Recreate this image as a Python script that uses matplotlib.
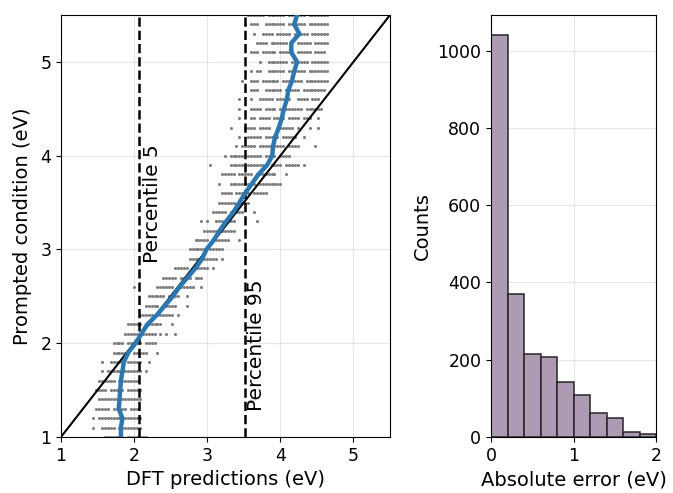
import numpy as np
import matplotlib
matplotlib.use("Agg")
import matplotlib.pyplot as plt

# rows of prompted condition (eV)
prompt_levels = [1.0, 1.1, 1.2, 1.3, 1.4, 1.5, 1.6, 1.7, 1.8, 1.9,
                 2.0, 2.1, 2.2, 2.3, 2.4, 2.5, 2.6, 2.7, 2.8, 2.9,
                 3.0, 3.1, 3.2, 3.3, 3.4, 3.5, 3.6, 3.7, 3.8, 3.9,
                 4.0, 4.1, 4.2, 4.3, 4.4, 4.5, 4.6, 4.7, 4.8, 4.9,
                 5.0, 5.1, 5.2, 5.3, 5.4, 5.5]

# scatter: cell grid of 0.04 eV starting at 1.40 eV,
# each row = first occupied cell + pattern ('#' = dot)
grid_x0 = 1.40
grid_dx = 0.04
row_start = [5, 1, 1, 2, 3, 2, 3, 4, 4, 8,
             8, 12, 13, 17, 19, 20, 15, 25, 29, 34,
             34, 36, 39, 38, 42, 44, 45, 44, 45, 41,
             46, 50, 51, 48, 51, 51, 51, 55, 52, 53,
             58, 55, 57, 56, 53, 54]
row_pattern = [
    "####### #######",
    "#  ##### ########",
    "# ######## ######",
    "##### ##### ###",
    "####### #######",
    "#### ##### #####",
    "###### #######",
    "# ##### ###### #",
    "#  ##### #####  #",
    "###### #####   #",
    "#### ##### ####",
    "##### ##### # #  #",
    "##### ######   #",
    "##### ###### #",
    "##### #####   #",
    "###### ####  #",
    "#       ###### ######  #",
    "##### #### ###",
    "##### ###### #",
    "#### ##### #",
    "###### #####",
    "##### ######   #",
    "##### #####",
    "# #  #######       #",
    "##### #####   #",
    "###### ####",
    "#### ##### #####",
    "#   ######### ########",
    "##### ##### #######   #",
    "#      ##### ######  #### ##### #",
    "# ##### ##### #### ####",
    "# ##### #### #### ####     #",
    "#  ##### ##### #####  #",
    "#    #### ####  ###### #   #  #",
    "#   ## #### #### #### ###  #",
    "#   #### #### ######## ######",
    "#   #  ##### #####  #### ###",
    "###  ###### ##### ########",
    "#  ### ###### ####### ########",
    "# # ##  ###### ###### #######",
    "#  ####### ###### ######",
    "### ##### ##### ##### ####",
    "#### ######   ##### #####",
    "#  #### ##### ##### ######",
    "# ###  ####### ###### #######",
    "###### ###### ###### #######",
]

# mean DFT prediction per row (blue line)
mean_pred = [1.82, 1.82, 1.84, 1.79, 1.80, 1.81, 1.82, 1.84, 1.86, 1.92,
             2.02, 2.10, 2.18, 2.31, 2.42, 2.53, 2.62, 2.73, 2.84, 2.93,
             2.99, 3.09, 3.17, 3.26, 3.36, 3.44, 3.52, 3.61, 3.70, 3.82,
             3.89, 3.90, 3.93, 3.98, 4.02, 4.05, 4.09, 4.11, 4.16, 4.19,
             4.23, 4.15, 4.15, 4.26, 4.19, 4.23]

p5 = 2.07
p95 = 3.52

# histogram of absolute error
err_edges = [0.0, 0.2, 0.4, 0.6, 0.8, 1.0, 1.2, 1.4, 1.6, 1.8, 2.0]
err_counts = [1040, 371, 216, 207, 142, 109, 63, 50, 12, 8]

xs, ys = [], []
for yv, s0, pat in zip(prompt_levels, row_start, row_pattern):
    for k, ch in enumerate(pat):
        if ch == "#":
            xs.append(grid_x0 + grid_dx * (s0 + k))
            ys.append(yv)

plt.rcParams["font.size"] = 12.5

fig = plt.figure(figsize=(6.73, 4.93), dpi=100)
ax = fig.add_axes([0.0906, 0.1136, 0.4889, 0.856])
ax2 = fig.add_axes([0.7296, 0.1136, 0.2452, 0.856])

ax.scatter(xs, ys, s=5, color="#7f7f7f", linewidths=0, zorder=2)
ax.plot([1, 5.5], [1, 5.5], color="black", lw=1.5, zorder=3)
ax.plot(mean_pred, prompt_levels, color="#2878b5", lw=3.2, zorder=4)
ax.axvline(p5, color="black", ls="--", lw=1.8, zorder=3)
ax.axvline(p95, color="black", ls="--", lw=1.8, zorder=3)
ax.text(p5 + 0.05, 2.86, "Percentile 5", rotation=90, ha="left", va="bottom",
        fontsize=14.5)
ax.text(p95 + 0.03, 1.28, "Percentile 95", rotation=90, ha="left", va="bottom",
        fontsize=14.5)
ax.set_xlim(1, 5.5)
ax.set_ylim(1, 5.5)
ax.set_xticks([1, 2, 3, 4, 5])
ax.set_yticks([1, 2, 3, 4, 5])
ax.set_xlabel("DFT predictions (eV)", fontsize=14)
ax.set_ylabel("Prompted condition (eV)", fontsize=14, labelpad=6)
ax.grid(True, alpha=0.3)
ax.set_axisbelow(True)

ax2.bar(err_edges[:-1], err_counts, width=0.2, align="edge",
        color="#ac9bb2", edgecolor="#262626", lw=1.1)
ax2.set_xlim(0, 2)
ax2.set_xticks([0, 1, 2])
ax2.set_xlabel("Absolute error (eV)", fontsize=14)
ax2.set_ylabel("Counts", fontsize=14)
ax2.grid(True, alpha=0.3)
ax2.set_axisbelow(True)

fig.savefig("out.png", dpi=100)
